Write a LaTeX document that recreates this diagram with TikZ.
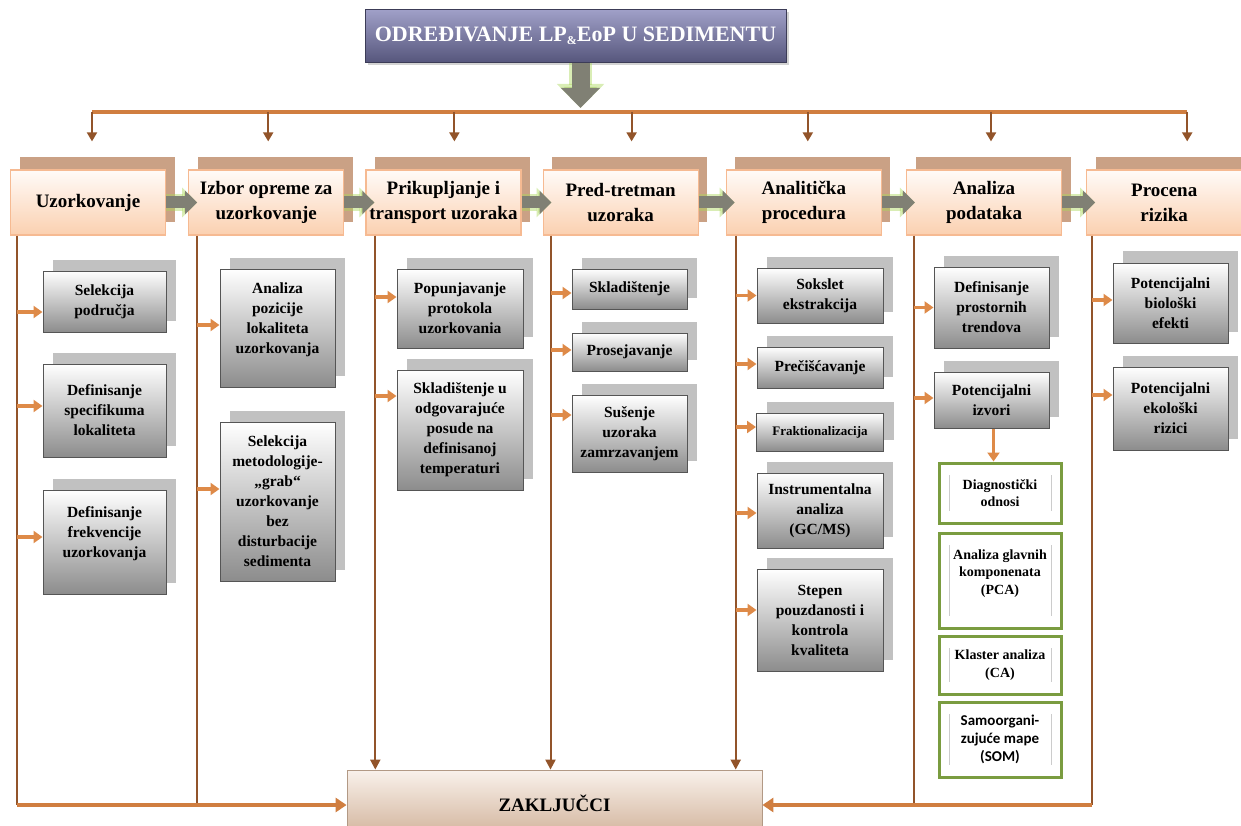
\documentclass[tikz,border=0pt]{standalone}
\usepackage{fontspec}
\setmainfont{Liberation Serif}
\newfontfamily\narrowsans{Carlito}
\usetikzlibrary{arrows.meta, positioning, shadows, calc}

\definecolor{peachtop}{RGB}{255,251,248}
\definecolor{peachbot}{RGB}{251,208,176}
\definecolor{peachline}{RGB}{246,186,146}
\definecolor{tanshade}{RGB}{202,161,133}
\definecolor{greyshade}{RGB}{193,193,193}
\definecolor{taskline}{RGB}{85,85,85}
\definecolor{spinebrown}{RGB}{146,84,42}
\definecolor{busorange}{RGB}{208,126,64}
\definecolor{feedorange}{RGB}{222,138,72}
\definecolor{linkgrey}{RGB}{128,128,116}
\definecolor{glowgreen}{RGB}{170,215,90}
\definecolor{titletop}{RGB}{160,160,200}
\definecolor{titlebot}{RGB}{86,86,124}
\definecolor{leafgreen}{RGB}{122,156,64}
\definecolor{endtop}{RGB}{249,241,235}
\definecolor{endbot}{RGB}{210,180,156}

\begin{document}
\begin{tikzpicture}[
    x=1pt, y=-1pt,
    node distance=23pt,
    headline/.style={rectangle, draw=titlebot!70!black, line width=0.6pt, top color=titletop, bottom color=titlebot, minimum width=421pt, minimum height=53pt, text=white, font=\fontsize{22}{26}\selectfont\bfseries, drop shadow={shadow xshift=3pt, shadow yshift=-3pt, opacity=0.35}},
    stage/.style={rectangle, draw=peachline, line width=1.2pt, top color=peachtop, bottom color=peachbot, minimum width=155pt, minimum height=65pt, align=center, inner sep=2pt, font=\fontsize{19}{25}\selectfont\bfseries, copy shadow={shadow xshift=9pt, shadow yshift=13pt, fill=tanshade, draw=none}},
    task/.style={rectangle, draw=taskline, line width=1pt, top color=white, bottom color=gray!90, minimum width=123pt, align=center, inner sep=2pt, font=\fontsize{15.5}{20}\selectfont\bfseries, copy shadow={shadow xshift=10pt, shadow yshift=11.5pt, fill=greyshade, draw=none}},
    method/.style={rectangle, draw=leafgreen, line width=3pt, fill=white, minimum width=122pt, align=center, inner sep=2pt, font=\fontsize{14}{17.5}\selectfont\bfseries,
        path picture={\draw[gray!40, line width=0.7pt]
            ([xshift=10pt,yshift=-12pt]path picture bounding box.north west) -- ([xshift=10pt,yshift=12pt]path picture bounding box.south west)
            ([xshift=-10pt,yshift=-12pt]path picture bounding box.north east) -- ([xshift=-10pt,yshift=12pt]path picture bounding box.south east);}},
    verdict/.style={rectangle, draw=endbot!85!black, line width=0.8pt, top color=endtop, bottom color=endbot, minimum width=415pt, minimum height=66pt, font=\fontsize{19}{23}\selectfont\bfseries},
    spine/.style={draw=spinebrown, line width=2.5pt},
    bus/.style={draw=busorange, line width=3.5pt},
    drop/.style={draw=spinebrown, line width=2pt, -{Triangle[length=9pt, width=10pt]}},
    feed/.style={draw=feedorange, line width=3.5pt, -{Triangle[length=9pt, width=12pt]}},
    gather/.style={draw=busorange, line width=4pt, -{Triangle[length=11pt, width=14pt]}},
    pour/.style={draw=spinebrown, line width=2pt, -{Triangle[length=10pt, width=10pt]}},
    link/.style={draw=linkgrey, line width=12pt, -{Triangle[length=12pt, width=23pt]}, shorten >=-9pt,
        preaction={draw=glowgreen, opacity=0.45, line width=17pt, -{Triangle[length=15pt, width=29pt]}}},
    sink/.style={draw=linkgrey, line width=18pt, -{Triangle[length=20pt, width=38pt]}, shorten >=4pt,
        preaction={draw=glowgreen, opacity=0.45, line width=23pt, -{Triangle[length=24pt, width=46pt]}}}
]
\useasboundingbox (0,0) rectangle (1241,826);

\node[headline] (title) at (575.5,36) {ODREĐIVANJE LP{\fontsize{12}{12}\selectfont\raisebox{-3pt}{\&}}EoP U SEDIMENTU};
\coordinate (bus) at (0,112);

% main stages
\node[stage] (uzork) at (88,202.5) {Uzorkovanje};
\node[stage, right=22pt of uzork] (izbor) {Izbor opreme za\\uzorkovanje};
\node[stage, right=21pt of izbor] (prikup) {Prikupljanje i\\transport uzoraka};
\node[stage, right=21pt of prikup] (pred) {Pred-tretman\\uzoraka};
\node[stage, right=27pt of pred] (analit) {Analitička\\procedura};
\node[stage, right=24pt of analit] (podaci) {Analiza\\podataka};
\node[stage, right=24pt of podaci] (rizik) {Procena\\rizika};

% column 1
\node[task, minimum height=61pt] (c1a) at (104.5,301.5) {Selekcija\\područja};
\node[task, minimum height=93pt, below=31pt of c1a] (c1b) {Definisanje\\specifikuma\\lokaliteta};
\node[task, minimum height=104pt, below=32pt of c1b] (c1c) {Definisanje\\frekvencije\\uzorkovanja\\\mbox{}};
% column 2
\node[task, minimum width=115pt, minimum height=118pt] (c2a) at (277.5,328) {Analiza\\pozicije\\lokaliteta\\uzorkovanja\\\mbox{}};
\node[task, minimum width=115pt, minimum height=159pt, below=34pt of c2a] (c2b) {Selekcija\\metodologije-\\„grab“\\uzorkovanje\\bez\\disturbacije\\sedimenta};
% column 3
\node[task, minimum width=126pt, minimum height=79pt] (c3a) at (460,308.5) {Popunjavanje\\protokola\\uzorkovania};
\node[task, minimum width=126pt, minimum height=120pt, below=21pt of c3a] (c3b) {Skladištenje u\\odgovarajuće\\posude na\\definisanoj\\temperaturi};
% column 4
\node[task, minimum width=115pt, minimum height=40pt] (c4a) at (629.5,289) {Skladištenje};
\node[task, minimum width=115pt, minimum height=38pt, below=23pt of c4a] (c4b) {Prosejavanje};
\node[task, minimum width=115pt, minimum height=77pt, below=23pt of c4b] (c4c) {Sušenje\\uzoraka\\zamrzavanjem};
% column 5
\node[task, minimum width=126pt, minimum height=55pt] (c5a) at (820,295.5) {Sokslet\\ekstrakcija};
\node[task, minimum width=126pt, minimum height=41pt, below=23pt of c5a] (c5b) {Prečišćavanje};
\node[task, minimum width=127pt, minimum height=38pt, below=24pt of c5b, font=\fontsize{13}{16}\selectfont\bfseries] (c5c) {Fraktionalizacija};
\node[task, minimum width=126pt, minimum height=75pt, below=21pt of c5c] (c5d) {Instrumentalna\\analiza\\(GC/MS)};
\node[task, minimum width=126pt, minimum height=102pt, below=20pt of c5d] (c5e) {Stepen\\pouzdanosti i\\kontrola\\kvaliteta};
% column 6
\node[task, minimum width=115pt, minimum height=81pt] (c6a) at (991.5,307.5) {Definisanje\\prostornih\\trendova};
\node[task, minimum width=115pt, minimum height=56pt, below=23pt of c6a] (c6b) {Potencijalni\\izvori};
\node[method, minimum height=60pt] (g1) at (1000,493) {Diagnostički\\odnosi};
\node[method, minimum height=95pt, below=7pt of g1] (g2) {Analiza glavnih\\komponenata\\(PCA)\\\mbox{}};
\node[method, minimum height=58pt, below=5pt of g2] (g3) {Klaster analiza\\(CA)};
\node[method, minimum height=75pt, below=5pt of g3, font=\narrowsans\fontsize{15}{18}\selectfont\bfseries] (g4) {Samoorgani-\\zujuće mape\\(SOM)};
% column 7
\node[task, minimum width=115pt, minimum height=80pt] (c7a) at (1170.5,303) {Potencijalni\\biološki\\efekti};
\node[task, minimum width=115pt, minimum height=83pt, below=23pt of c7a] (c7b) {Potencijalni\\ekološki\\rizici};

\node[verdict] (verdict) at (554.5,803) {ZAKLJUČCI};

% spines
\foreach \st/\sp/\dx in {uzork/s1/7, izbor/s2/9, prikup/s3/10, pred/s4/8, analit/s5/10, podaci/s6/8, rizik/s7/6}
    \coordinate (\sp) at ($(\st.south west)+(\dx,0)$);
\coordinate (low) at (0,805);
\foreach \sp in {s1, s2, s6, s7}
    \draw[spine] (\sp) -- (\sp |- low);
\foreach \sp in {s3, s4, s5}
    \draw[pour] (\sp) -- (\sp |- verdict.north);
\draw[gather] (s1 |- low) -- (verdict.west |- low);
\draw[gather] (s7 |- low) -- (verdict.east |- low);

% top distribution
\draw[bus] ($(bus -| uzork)+(4,0)$) -- ($(bus -| rizik)+(23,0)$);
\foreach \st/\dx in {uzork/4, izbor/2, prikup/11, pred/11, analit/4, podaci/7, rizik/23}
    \draw[drop] ($(bus -| \st)+(\dx,0)$) -- ($(\st.north)+(\dx,-28)$);
\draw[sink] ($(title.south)+(5,0)$) -- ($(bus -| title.south)+(5,0)$);

% feeds into tasks
\foreach \sp/\tk/\dy in {s1/c1a/10.5, s1/c1b/-4.5, s1/c1c/-5, s2/c2a/-3, s2/c2b/-12.5,
        s3/c3a/-11.5, s3/c3b/-34, s4/c4a/4, s4/c4b/-2, s4/c4c/-18.5,
        s5/c5a/0, s5/c5b/-3.5, s5/c5c/-5, s5/c5d/2.5, s5/c5e/-10,
        s6/c6a/0, s6/c6b/-2, s7/c7a/-3, s7/c7b/-13.5}
    \draw[feed] ($(\sp |- \tk.west)+(0,\dy)$) -- ($(\tk.west)+(0,\dy)$);
\draw[feed] ($(c6b.south)+(2,0)$) -- ($(c6b.south |- g1.north)+(2,0)$);

% stage chain
\draw[link] (uzork) -- (izbor);
\draw[link] (izbor) -- (prikup);
\draw[link] (prikup) -- (pred);
\draw[link] (pred) -- (analit);
\draw[link] (analit) -- (podaci);
\draw[link] (podaci) -- (rizik);

\end{tikzpicture}
\end{document}
